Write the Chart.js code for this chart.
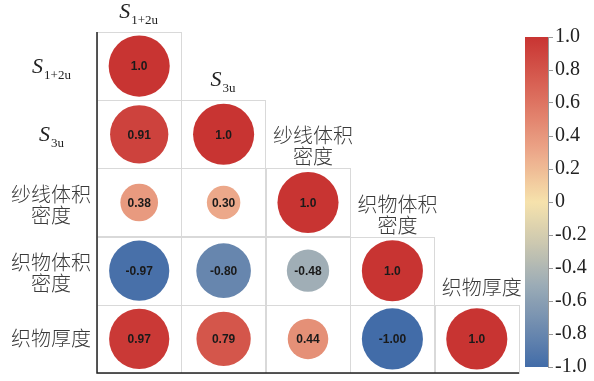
<!DOCTYPE html>
<html>
<head>
<meta charset="utf-8">
<script src="https://cdn.jsdelivr.net/npm/chart.js@4.4.1/dist/chart.umd.min.js"></script>
<style>
  body { margin: 0; background: #fff; }
  #wrap { position: relative; width: 594px; height: 381px; }
  #wrap canvas { position: absolute; left: 0; top: 0; }
</style>
</head>
<body>
<div id="wrap">
  <canvas id="corr" width="594" height="381"></canvas>
  <canvas id="cbar" width="594" height="381"></canvas>
</div>
<script>
// variables, lower triangle of the correlation matrix (row by row)
const categories = ['S1+2u', 'S3u', '纱线体积\n密度', '织物体积\n密度', '织物厚度'];
const row0 = [1.0];
const row1 = [0.91, 1.0];
const row2 = [0.38, 0.30, 1.0];
const row3 = [-0.97, -0.80, -0.48, 1.0];
const row4 = [0.97, 0.79, 0.44, -1.00, 1.0];
const rows = [row0, row1, row2, row3, row4];
const cbTicks = [1.0, 0.8, 0.6, 0.4, 0.2, 0, -0.2, -0.4, -0.6, -0.8, -1.0];

// red - beige - blue colour map
const cmap = [
  [1.0,  [200, 52, 50]],
  [0.6,  [222, 116, 98]],
  [0.3,  [236, 168, 138]],
  [0.0,  [246, 226, 172]],
  [-0.25,[204, 200, 176]],
  [-0.5, [156, 172, 182]],
  [-0.8, [103, 134, 174]],
  [-1.0, [66, 108, 168]]
];
function colorFor(v) {
  for (let k = 0; k < cmap.length - 1; k++) {
    const [v0, c0] = cmap[k], [v1, c1] = cmap[k + 1];
    if (v <= v0 && v >= v1) {
      const t = (v0 - v) / (v0 - v1);
      const c = c0.map((a, i) => Math.round(a + (c1[i] - a) * t));
      return `rgb(${c[0]},${c[1]},${c[2]})`;
    }
  }
  return v > 0 ? 'rgb(200,52,50)' : 'rgb(66,108,168)';
}

const points = [];
rows.forEach((r, i) => r.forEach((v, j) => points.push({ x: j, y: i, v: v })));

const serif = "'Liberation Serif', 'Times New Roman', serif";
const cjk = "'Noto Sans CJK SC', sans-serif";

// draws S with subscript, or (multi-line) chinese text, centred at cx
function drawLabel(ctx, text, cx, cy) {
  ctx.fillStyle = '#222';
  if (/^S/.test(text)) {
    const sub = text.slice(1);
    ctx.font = 'italic 22px ' + serif;
    const wS = ctx.measureText('S').width;
    ctx.font = '13px ' + serif;
    const wSub = ctx.measureText(sub).width;
    const x0 = cx - (wS + wSub) / 2;
    ctx.textAlign = 'left';
    ctx.textBaseline = 'alphabetic';
    ctx.font = 'italic 22px ' + serif;
    ctx.fillText('S', x0, cy + 7);
    ctx.font = '13px ' + serif;
    ctx.fillText(sub, x0 + wS + 1, cy + 13);
  } else {
    const lines = text.split('\n');
    ctx.font = '300 20px ' + cjk;
    ctx.fillStyle = '#3a3a3a';
    ctx.textAlign = 'center';
    ctx.textBaseline = 'middle';
    const lh = 21;
    lines.forEach((l, k) => {
      ctx.fillText(l, cx, cy + (k - (lines.length - 1) / 2) * lh);
    });
  }
}

const gridPlugin = {
  id: 'corrGrid',
  beforeDatasetsDraw(chart) {
    const { ctx, scales: { x, y } } = chart;
    ctx.save();
    ctx.strokeStyle = '#d9d9d9';
    ctx.lineWidth = 1;
    rows.forEach((r, i) => r.forEach((v, j) => {
      const x0 = x.getPixelForValue(j - 0.5), x1 = x.getPixelForValue(j + 0.5);
      const y0 = y.getPixelForValue(i - 0.5), y1 = y.getPixelForValue(i + 0.5);
      ctx.strokeRect(Math.round(x0) + 0.5, Math.round(y0) + 0.5, Math.round(x1 - x0), Math.round(y1 - y0));
    }));
    // axis lines
    ctx.strokeStyle = '#222';
    ctx.lineWidth = 1.5;
    const l = x.getPixelForValue(-0.5), rgt = x.getPixelForValue(4.5);
    const t = y.getPixelForValue(-0.5), b = y.getPixelForValue(4.5);
    ctx.beginPath();
    ctx.moveTo(l, t);
    ctx.lineTo(l, b);
    ctx.lineTo(rgt, b);
    ctx.stroke();
    ctx.restore();
  },
  afterDatasetsDraw(chart) {
    const { ctx, scales: { x, y } } = chart;
    const meta = chart.getDatasetMeta(0);
    ctx.save();
    // values in the circles
    ctx.font = 'bold 12px ' + "'Liberation Sans', Arial, sans-serif";
    ctx.fillStyle = '#1a1a1a';
    ctx.textAlign = 'center';
    ctx.textBaseline = 'middle';
    meta.data.forEach((pt, k) => {
      const p = points[k];
      const txt = p.x === p.y ? p.v.toFixed(1) : p.v.toFixed(2);
      ctx.fillText(txt, pt.x, pt.y + 1);
    });
    // row labels on the left, column labels above the diagonal
    categories.forEach((c, i) => {
      const yc = y.getPixelForValue(i);
      drawLabel(ctx, c, 51, yc + (c.includes('\n') ? 2 : 0));
      const top = y.getPixelForValue(i - 0.5);
      const xc = x.getPixelForValue(i);
      if (/^S/.test(c)) {
        drawLabel(ctx, c, xc - 1, top - 21);
      } else {
        const n = c.split('\n').length;
        drawLabel(ctx, c, xc + 5, top - 12 - (n - 1) * 10 - (n === 1 ? 5 : 0));
      }
    });
    ctx.restore();
  }
};

new Chart(document.getElementById('corr'), {
  type: 'scatter',
  data: {
    datasets: [{
      data: points,
      pointStyle: 'circle',
      borderWidth: 0,
      backgroundColor: (c) => c.raw ? colorFor(c.raw.v) : '#000',
      pointRadius: (c) => {
        if (!c.raw) return 0;
        const xs = c.chart.scales.x;
        const cell = xs.getPixelForValue(1) - xs.getPixelForValue(0);
        return 0.362 * cell * Math.sqrt(Math.abs(c.raw.v));
      },
      pointHoverRadius: (c) => 0
    }]
  },
  options: {
    responsive: false,
    animation: false,
    events: [],
    layout: { padding: { left: 97, right: 75, top: 32, bottom: 8 } },
    plugins: { legend: { display: false }, tooltip: { enabled: false } },
    scales: {
      x: { type: 'linear', min: -0.5, max: 4.5, display: false },
      y: { type: 'linear', min: -0.5, max: 4.5, reverse: true, display: false }
    }
  },
  plugins: [gridPlugin]
});

// colour bar: one floating bar from -1 to 1 painted with the colour map
new Chart(document.getElementById('cbar'), {
  type: 'bar',
  data: {
    labels: [''],
    datasets: [{
      data: [[-1, 1]],
      barPercentage: 1,
      categoryPercentage: 1,
      borderWidth: 0,
      backgroundColor: (c) => {
        const { ctx, scales } = c.chart;
        const y = scales.y;
        if (!y) return '#ccc';
        const top = y.getPixelForValue(1), bot = y.getPixelForValue(-1);
        if (!isFinite(top) || !isFinite(bot) || top === bot) return '#ccc';
        const g = ctx.createLinearGradient(0, top, 0, bot);
        for (let k = 0; k <= 40; k++) {
          const v = 1 - k / 20;
          g.addColorStop(k / 40, colorFor(v));
        }
        return g;
      }
    }]
  },
  options: {
    responsive: false,
    animation: false,
    events: [],
    layout: { padding: { left: 525, right: 0, top: 37, bottom: 14 } },
    plugins: { legend: { display: false }, tooltip: { enabled: false } },
    scales: {
      x: { display: false },
      y: {
        position: 'right',
        min: -1,
        max: 1,
        afterFit: (s) => { s.width = 46; },
        afterBuildTicks: (s) => { s.ticks = cbTicks.map(v => ({ value: v })); },
        border: { display: true, color: '#999' },
        grid: { drawOnChartArea: false, drawTicks: true, tickLength: 5, color: '#999' },
        ticks: {
          padding: 2,
          color: '#222',
          font: { family: serif, size: 20 },
          callback: (v) => Math.abs(v) < 1e-9 ? '0' : Number(v).toFixed(1)
        }
      }
    }
  }
});
</script>
</body>
</html>
